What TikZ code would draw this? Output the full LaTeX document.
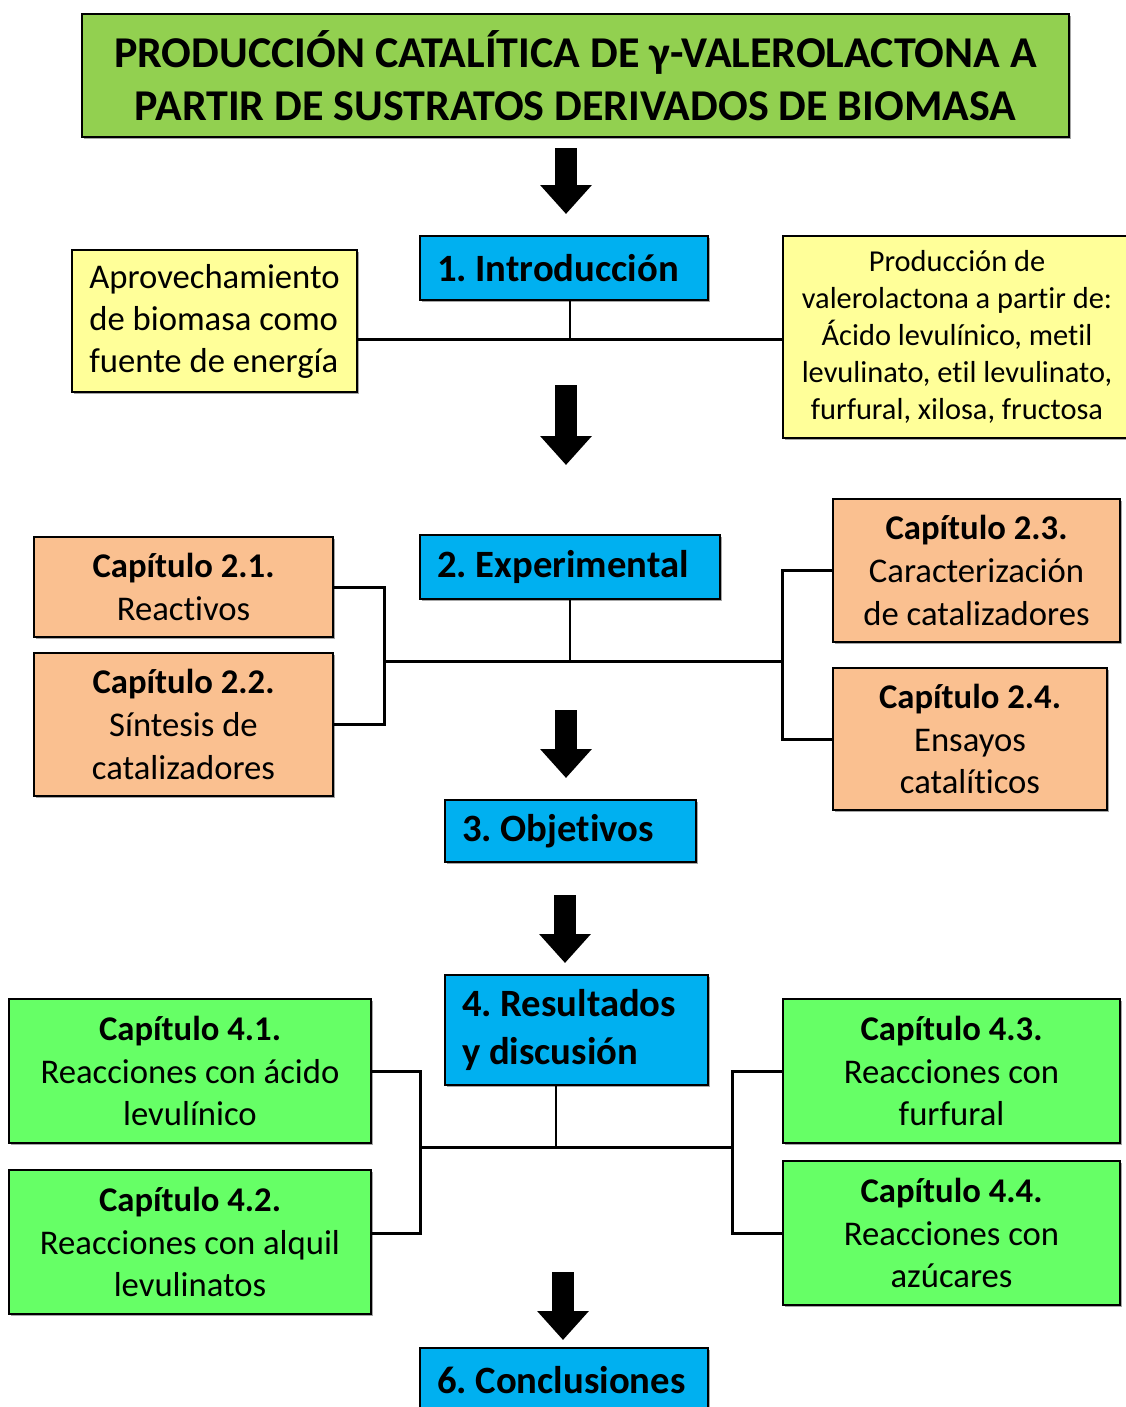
\documentclass[tikz,border=0pt]{standalone}
\usepackage{fontspec}
\setmainfont{Carlito}[Ligatures=NoCommon]
\usetikzlibrary{arrows.meta,shadows}

\definecolor{titlegreen}{HTML}{92D050}
\definecolor{secblue}{HTML}{00B0F0}
\definecolor{noteyellow}{HTML}{FFFF99}
\definecolor{peach}{HTML}{FAC090}
\definecolor{brightgreen}{HTML}{66FF66}

\tikzset{
  % place a box from its top-left and bottom-right corners (in px units)
  corners/.style n args={4}{
    at={({(#1+#3)/2},{(#2+#4)/2})},
    minimum width={(#3-#1)*0.75pt},
    minimum height={(#4-#2)*0.75pt}},
  box/.style={draw=black, line width=1.1pt, inner sep=0pt, align=center,
    drop shadow={shadow xshift=1.2pt, shadow yshift=-1.2pt, opacity=0.35, fill=black}},
  titlebox/.style={box, fill=titlegreen, font=\fontsize{33}{40}\selectfont\bfseries\frenchspacing},
  bluebox/.style={box, fill=secblue, align=flush left, inner xsep=12.75pt,
    font=\fontsize{29}{36}\selectfont\bfseries\frenchspacing},
  notebox/.style={box, fill=noteyellow, font=\fontsize{26}{31.5}\selectfont},
  smallnote/.style={box, fill=noteyellow, font=\fontsize{22.8}{27.75}\selectfont},
  chapbox/.style={box, font=\fontsize{26}{32}\selectfont\frenchspacing},
  expbox/.style={chapbox, fill=peach},
  resbox/.style={chapbox, fill=brightgreen},
  bar/.style={line width=2.25pt, line cap=butt, line join=miter},
  stub/.style={line width=1.5pt},
  blockarrow/.style={line width=16.5pt, -{Triangle[length=21.75pt, width=37.5pt]}},
}

\begin{document}
\begin{tikzpicture}[x=0.75pt, y=-0.75pt]
\useasboundingbox (0,0) rectangle (1125,1407);

% title
\node[titlebox, corners={82}{14}{1069}{137}] (title)
  {PRODUCCIÓN CATALÍTICA DE γ-VALEROLACTONA A\\PARTIR DE SUSTRATOS DERIVADOS DE BIOMASA};

% 1. Introducción
\node[bluebox, text width=190.5pt, corners={420}{236}{708}{300}] (intro) {1. Introducción};
\node[notebox, align=flush left, corners={72}{250}{357}{392}] (aprov)
  {Aprovechamiento\\de biomasa como\\fuente de energía};
\node[smallnote, corners={783}{236}{1131}{438}] (prod)
  {Producción de\\valerolactona a partir de:\\Ácido levulínico, metil\\levulinato, etil levulinato,\\furfural, xilosa, fructosa};
\coordinate (h1) at (570,339);
\draw[stub] (intro.south -| h1) -- (h1);
\draw[bar] (aprov.east |- h1) -- (prod.west |- h1);

% 2. Experimental
\node[bluebox, text width=199.5pt, corners={420}{535}{720}{599}] (exp) {2. Experimental};
\node[expbox, corners={34}{537}{333}{637}] (c21) {\textbf{Capítulo 2.1.}\\Reactivos};
\node[expbox, corners={34}{653}{333}{796}] (c22) {\textbf{Capítulo 2.2.}\\Síntesis de\\catalizadores};
\node[expbox, corners={833}{499}{1120}{642}] (c23) {\textbf{Capítulo 2.3.}\\Caracterización\\de catalizadores};
\node[expbox, corners={833}{668}{1107}{810}] (c24) {\textbf{Capítulo 2.4.}\\Ensayos\\catalíticos};
\coordinate (l2) at (384,661);
\coordinate (r2) at (782,661);
\draw[stub] (exp.south) -- (exp.south |- l2);
\draw[bar] (l2) -- (r2);
\draw[bar] (c21.east) -| (l2) |- (c22.east);
\draw[bar] (c23.west) -| (r2) |- (c24.west);

% 3. Objetivos
\node[bluebox, text width=162.75pt, corners={445}{800}{696}{862}] (obj) {3. Objetivos};

% 4. Resultados y discusión
\node[bluebox, text width=171.75pt, corners={445}{975}{708}{1085}] (res) {4. Resultados\\y discusión};
\node[resbox, corners={9}{999}{371}{1143}] (c41) {\textbf{Capítulo 4.1.}\\Reacciones con ácido\\levulínico};
\node[resbox, corners={9}{1170}{371}{1314}] (c42) {\textbf{Capítulo 4.2.}\\Reacciones con alquil\\levulinatos};
\node[resbox, corners={783}{999}{1120}{1143}] (c43) {\textbf{Capítulo 4.3.}\\Reacciones con\\furfural};
\node[resbox, corners={783}{1161}{1120}{1305}] (c44) {\textbf{Capítulo 4.4.}\\Reacciones con\\azúcares};
\coordinate (h4) at (556,1147);
\coordinate (l4) at (420,1147);
\coordinate (r4) at (732,1147);
\draw[stub] (res.south -| h4) -- (h4);
\draw[bar] (l4) -- (r4);
\draw[bar] (c41.east) -| (l4) |- (c42.east |- c44.west);
\draw[bar] (c43.west) -| (r4) |- (c44.west);

% 6. Conclusiones
\node[bluebox, text width=190.5pt, corners={420}{1348}{708}{1412}] (concl) {6.~Conclusiones};

% flow arrows between the main sections
\coordinate (a1s) at (566,148);  \coordinate (a1e) at (566,214);
\coordinate (a2s) at (566,385);  \coordinate (a2e) at (566,465);
\coordinate (a3s) at (566,710);  \coordinate (a3e) at (566,778);
\coordinate (a4s) at (565,895);  \coordinate (a4e) at (565,963);
\coordinate (a5s) at (563,1272); \coordinate (a5e) at (563,1340);
\draw[blockarrow] (a1s) -- (a1e);
\draw[blockarrow] (a2s) -- (a2e);
\draw[blockarrow] (a3s) -- (a3e);
\draw[blockarrow] (a4s) -- (a4e);
\draw[blockarrow] (a5s) -- (a5e);
\end{tikzpicture}
\end{document}
